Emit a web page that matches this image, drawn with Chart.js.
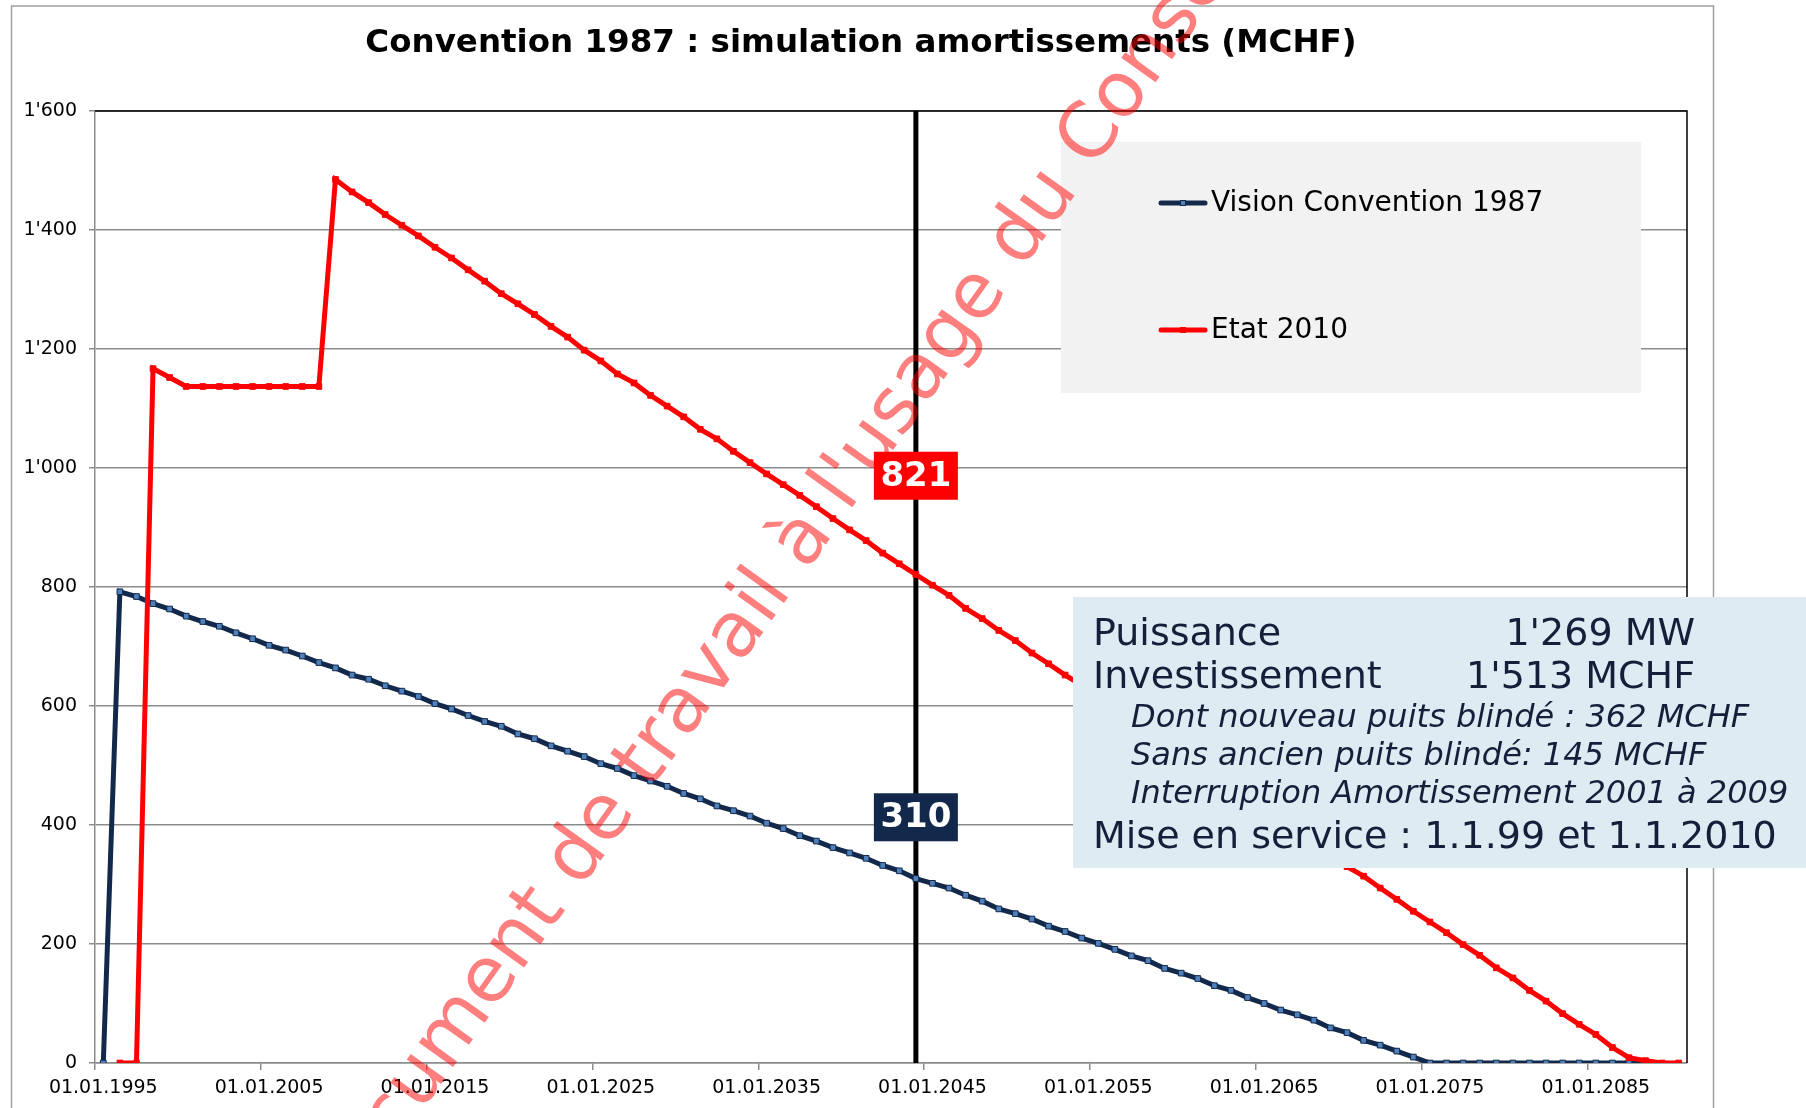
<!DOCTYPE html>
<html>
<head>
<meta charset="utf-8">
<script src="https://cdn.jsdelivr.net/npm/chart.js@4.4.1/dist/chart.umd.min.js"></script>
<style>
  html, body { margin: 0; padding: 0; background: #fff; }
  canvas { display: block; }
</style>
</head>
<body>
<canvas id="amortChart" width="1806" height="1108"></canvas>
<script>
// one category per year, 01.01.1995 .. 01.01.2090
const firstYear = 1995
const lastYear = 2090
const categories = []
for (let y = firstYear; y <= lastYear; y++) categories.push('01.01.' + y)

const labelEvery = 10
const markerYear = '01.01.2044'

// Vision Convention 1987 (MCHF)
const vision1987 = [
  0, 792, 784, 772, 763, 751, 742, 734, 723, 713,
  702, 694, 684, 673, 664, 652, 645, 634, 625, 616,
  604, 595, 584, 574, 566, 553, 545, 533, 524, 515,
  503, 495, 483, 474, 465, 453, 444, 432, 424, 415,
  403, 394, 382, 373, 362, 353, 344, 332, 323, 310,
  302, 294, 282, 272, 259, 251, 242, 230, 221, 210,
  201, 191, 180, 172, 159, 151, 142, 130, 122, 110,
  100, 89, 81, 72, 59, 51, 38, 30, 20, 10,
  0, 0, 0, 0, 0, 0, 0, 0, 0, 0,
  0, 0, 0, 0, null, null
]

// Etat 2010 (MCHF)
const etat2010 = [
  null, 0, 0, 1167, 1152, 1137, 1137, 1137, 1137, 1137,
  1137, 1137, 1137, 1137, 1485, 1464, 1446, 1426, 1408, 1390,
  1371, 1353, 1333, 1314, 1293, 1276, 1258, 1238, 1220, 1198,
  1180, 1158, 1143, 1122, 1104, 1086, 1065, 1049, 1028, 1009,
  990, 972, 954, 935, 915, 896, 878, 857, 839, 821,
  803, 786, 764, 747, 727, 710, 689, 671, 652, 635,
  614, 597, 578, 560, 541, 521, 503, 484, 466, 446,
  428, 409, 389, 370, 350, 330, 314, 294, 275, 255,
  237, 219, 199, 181, 160, 143, 122, 104, 83, 65,
  48, 26, 9, 4, 0, 0
]

const yTicks = [0, 200, 400, 600, 800, 1000, 1200, 1400, 1600]

const navy = '#13294b'
const red = '#ff0000'
const gridGray = '#8c8c8c'

const infoLines = [
  { text: 'Puissance', value: "1'269 MW", italic: false },
  { text: 'Investissement', value: "1'513 MCHF", italic: false },
  { text: 'Dont nouveau puits blindé : 362 MCHF', italic: true },
  { text: 'Sans ancien puits blindé: 145 MCHF', italic: true },
  { text: 'Interruption Amortissement 2001 à 2009', italic: true },
  { text: 'Mise en service : 1.1.99 et 1.1.2010', italic: false }
]

function fmt(v) {
  return String(v).replace(/\B(?=(\d{3})+(?!\d))/g, "'")
}

const overlay = {
  id: 'overlay',
  beforeDraw(chart) {
    const ctx = chart.ctx
    ctx.save()
    ctx.strokeStyle = '#a0a0a0'
    ctx.lineWidth = 1.5
    ctx.strokeRect(11.5, 6, 1702, 1200)
    ctx.fillStyle = '#000'
    ctx.font = 'bold 32.5px "DejaVu Sans"'
    ctx.textAlign = 'center'
    ctx.textBaseline = 'middle'
    ctx.fillText('Convention 1987 : simulation amortissements (MCHF)', 861, 44)
    ctx.restore()
  },
  beforeDatasetsDraw(chart) {
    const ctx = chart.ctx
    const a = chart.chartArea
    const xs = chart.scales.x
    const ys = chart.scales.y
    ctx.save()
    // plot area border top / right
    ctx.strokeStyle = '#000'
    ctx.lineWidth = 1.5
    ctx.beginPath()
    ctx.moveTo(a.left, a.top)
    ctx.lineTo(a.right, a.top)
    ctx.lineTo(a.right, a.bottom)
    ctx.stroke()

    // marker line
    const idx = categories.indexOf(markerYear)
    const mx = xs.getPixelForValue(idx)
    ctx.lineWidth = 5
    ctx.beginPath()
    ctx.moveTo(mx, a.top)
    ctx.lineTo(mx, a.bottom)
    ctx.stroke()

    // value boxes
    const boxes = [
      { v: etat2010[idx], at: 987, color: red },
      { v: vision1987[idx], at: 413, color: navy }
    ]
    ctx.font = 'bold 34px "DejaVu Sans"'
    ctx.textAlign = 'center'
    ctx.textBaseline = 'middle'
    boxes.forEach(b => {
      const cy = ys.getPixelForValue(b.at)
      ctx.fillStyle = b.color
      ctx.fillRect(mx - 42, cy - 24, 84, 48)
      ctx.fillStyle = '#fff'
      ctx.fillText(fmt(b.v), mx, cy + 1)
    })
    ctx.restore()
  },
  afterDatasetsDraw(chart) {
    const ctx = chart.ctx
    ctx.save()
    // legend
    ctx.fillStyle = '#f2f2f2'
    ctx.fillRect(1061, 142, 580, 251)
    const rows = [203, 330]
    ctx.textBaseline = 'middle'
    ctx.textAlign = 'left'
    chart.data.datasets.forEach((ds, i) => {
      const y = rows[i]
      ctx.strokeStyle = ds.borderColor
      ctx.lineWidth = 5
      ctx.lineCap = 'round'
      ctx.beginPath()
      ctx.moveTo(1161, y)
      ctx.lineTo(1205, y)
      ctx.stroke()
      ctx.fillStyle = ds.pointBackgroundColor
      ctx.strokeStyle = ds.pointBorderColor
      ctx.lineWidth = 1
      ctx.fillRect(1180.5, y - 2.5, 5, 5)
      ctx.strokeRect(1180.5, y - 2.5, 5, 5)
      ctx.fillStyle = '#000'
      ctx.font = '28px "DejaVu Sans"'
      ctx.fillText(ds.label, 1211, y + 1)
    })

    // info box
    ctx.fillStyle = '#deebf3'
    ctx.fillRect(1073, 597, 740, 271)
    const baselines = [645, 688, 727, 765, 803, 848]
    ctx.fillStyle = '#14203a'
    ctx.textBaseline = 'alphabetic'
    infoLines.forEach((l, i) => {
      ctx.textAlign = 'left'
      if (l.italic) {
        ctx.font = 'italic 32px "DejaVu Sans"'
        ctx.fillText(l.text, 1131, baselines[i])
      } else {
        ctx.font = '38px "DejaVu Sans"'
        ctx.fillText(l.text, 1093, baselines[i])
        if (l.value) {
          ctx.textAlign = 'right'
          ctx.fillText(l.value, 1695, baselines[i])
        }
      }
    })
    ctx.restore()
  },
  afterDraw(chart) {
    const ctx = chart.ctx
    ctx.save()
    ctx.translate(318, 1222)
    ctx.rotate(-54.5 * Math.PI / 180)
    ctx.fillStyle = 'rgba(255,0,0,0.5)'
    ctx.font = '77px "DejaVu Sans"'
    ctx.textAlign = 'left'
    ctx.textBaseline = 'middle'
    ctx.fillText("Document de travail à l'usage du Conseil", 0, 0)
    ctx.restore()
  }
}

new Chart(document.getElementById('amortChart'), {
  type: 'line',
  data: {
    labels: categories,
    datasets: [{
      label: 'Vision Convention 1987',
      data: vision1987,
      borderColor: navy,
      borderWidth: 5,
      pointStyle: 'rect',
      pointRadius: 4,
      pointBackgroundColor: '#4f81bd',
      pointBorderColor: navy,
      pointBorderWidth: 1,
      tension: 0,
      order: 1
    }, {
      label: 'Etat 2010',
      data: etat2010,
      borderColor: red,
      borderWidth: 5,
      pointStyle: 'rect',
      pointRadius: 4,
      pointBackgroundColor: red,
      pointBorderColor: red,
      pointBorderWidth: 1,
      tension: 0,
      order: 0
    }]
  },
  options: {
    responsive: false,
    animation: false,
    devicePixelRatio: 1,
    layout: { padding: { top: 111, right: 119, left: 0, bottom: 0 } },
    plugins: {
      legend: { display: false },
      tooltip: { enabled: false },
      title: { display: false }
    },
    scales: {
      x: {
        type: 'category',
        offset: true,
        afterFit: s => { s.height = 45 },
        grid: {
          offset: true,
          drawOnChartArea: false,
          tickLength: 7,
          lineWidth: 1.5,
          color: gridGray,
          tickColor: c => (c.index % labelEvery === 0 ? gridGray : 'rgba(0,0,0,0)')
        },
        border: { color: gridGray, width: 1.5 },
        ticks: {
          autoSkip: false,
          maxRotation: 0,
          padding: 7,
          color: '#000',
          font: { family: 'DejaVu Sans', size: 19 },
          callback: function (v, i) { return i % labelEvery === 0 ? categories[i] : '' }
        }
      },
      y: {
        min: 0,
        max: 1600,
        afterFit: s => { s.width = 95 },
        afterBuildTicks: s => { s.ticks = yTicks.map(v => ({ value: v })) },
        grid: { color: gridGray, lineWidth: 1.5, tickLength: 6 },
        border: { color: gridGray, width: 1.5 },
        ticks: {
          padding: 12,
          color: '#000',
          font: { family: 'DejaVu Sans', size: 19 },
          callback: v => fmt(v)
        }
      }
    }
  },
  plugins: [overlay]
})
</script>
</body>
</html>
